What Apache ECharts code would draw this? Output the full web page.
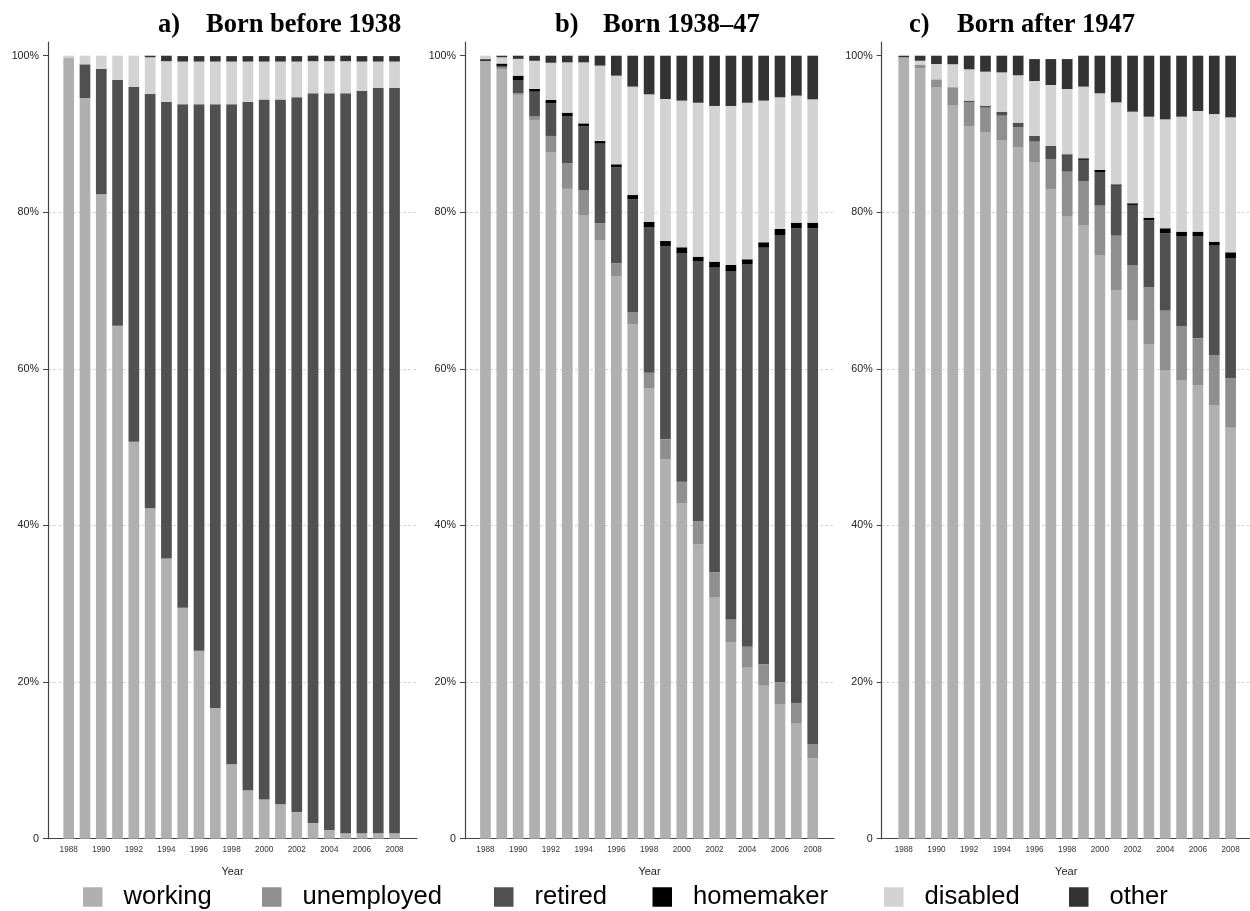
<!DOCTYPE html>
<html>
<head>
<meta charset="utf-8">
<script src="https://cdn.jsdelivr.net/npm/echarts@6/dist/echarts.min.js"></script>
<style>html,body{margin:0;padding:0;background:#fff}#c{width:1250px;height:911px}</style>
</head>
<body>
<div id="c"></div>
<script>
const years = [1988,1989,1990,1991,1992,1993,1994,1995,1996,1997,1998,1999,2000,2001,2002,2003,2004,2005,2006,2007,2008];
const yearLabels = [1988,1990,1992,1994,1996,1998,2000,2002,2004,2006,2008];
const yTicks = [0,20,40,60,80,100];
const statusNames = ['working','unemployed','retired','homemaker','disabled','other'];
const panelTitles = [['a)','Born before 1938'],['b)','Born 1938\u201347'],['c)','Born after 1947']];

// Panel a: born before 1938
const aWorking    = [99.7,94.6,82.3,65.5,50.7,42.2,35.8,29.5,24.0,16.7,9.5,6.2,5.0,4.4,3.4,2.0,1.1,0.7,0.7,0.7,0.7];
const aUnemployed = [0,0,0,0,0,0,0,0,0,0,0,0,0,0,0,0,0,0,0,0,0];
const aRetired    = [0,4.3,16.0,31.4,45.3,52.9,58.3,64.3,69.8,77.1,84.3,87.9,89.4,90.0,91.3,93.2,94.1,94.5,94.8,95.2,95.2];
const aHomemaker  = [0,0,0,0,0,0,0,0,0,0,0,0,0,0,0,0,0,0,0,0,0];
const aDisabled   = [0.3,1.1,1.7,3.1,4.0,4.7,5.2,5.45,5.45,5.45,5.45,5.15,4.85,4.85,4.55,4.1,4.1,4.1,3.75,3.35,3.35];
const aOther      = [0,0,0,0,0,0.2,0.7,0.7,0.7,0.7,0.7,0.7,0.7,0.7,0.7,0.7,0.7,0.7,0.7,0.7,0.7];

// Panel b: born 1938-47
const bWorking    = [99.35,98.3,95.0,91.8,87.66,83.0,79.65,76.46,71.87,65.7,57.52,48.49,42.83,37.6,30.78,25.04,21.84,19.54,17.2,14.7,10.27];
const bUnemployed = [0,0.2,0.2,0.5,2.09,3.26,3.2,2.14,1.62,1.5,2.0,2.51,2.77,2.97,3.24,2.96,2.66,2.76,2.8,2.6,1.83];
const bRetired    = [0,0.2,1.7,3.1,4.15,6.04,8.15,10.17,12.26,14.46,18.56,24.7,29.16,33.13,38.91,44.5,48.9,53.18,57.02,60.66,65.86];
const bHomemaker  = [0.2,0.3,0.55,0.35,0.44,0.42,0.36,0.33,0.38,0.54,0.72,0.63,0.77,0.63,0.77,0.77,0.6,0.69,0.85,0.72,0.72];
const bDisabled   = [0.45,0.8,2.15,3.6,4.76,6.43,7.79,9.63,11.32,13.85,16.27,18.14,18.73,19.66,19.88,20.31,19.99,18.09,16.82,16.22,15.75];
const bOther      = [0,0.2,0.4,0.64,0.9,0.85,0.85,1.27,2.55,3.95,4.93,5.53,5.74,6.01,6.42,6.42,6.01,5.74,5.31,5.1,5.57];

// Panel c: born after 1947
const cWorking    = [99.8,98.39,95.92,93.62,91.02,90.17,89.23,88.3,86.38,82.98,79.44,78.38,74.55,70.08,66.16,63.18,59.77,58.58,57.94,55.39,52.49];
const cUnemployed = [0,0.42,1.06,2.3,3.07,3.19,3.11,2.55,2.64,3.82,5.75,5.62,6.3,6.94,7.11,7.24,7.67,6.9,5.96,6.38,6.31];
const cRetired    = [0,0,0,0.05,0.17,0.26,0.51,0.6,0.73,1.67,2.05,2.7,4.3,6.38,7.67,8.58,9.88,11.49,13.07,13.97,15.32];
const cHomemaker  = [0,0,0,0,0,0,0,0,0,0,0.16,0.2,0.25,0.17,0.21,0.31,0.64,0.56,0.56,0.51,0.77];
const cDisabled   = [0,0.55,1.96,2.94,4.0,4.34,5.02,6.05,7.02,7.79,8.35,9.15,9.8,10.47,11.7,12.9,13.91,14.68,15.41,16.3,17.24];
const cOther      = [0.2,0.64,1.06,1.1,1.74,2.04,2.13,2.5,2.8,3.31,3.82,3.95,4.8,5.96,7.15,7.79,8.13,7.79,7.06,7.45,7.87];

const panels = [
  [aWorking,aUnemployed,aRetired,aHomemaker,aDisabled,aOther],
  [bWorking,bUnemployed,bRetired,bHomemaker,bDisabled,bOther],
  [cWorking,cUnemployed,cRetired,cHomemaker,cDisabled,cOther]
];
const colors = ['#b0b0b0','#8f8f8f','#505050','#000000','#d3d3d3','#333333'];

// layout
const gridLefts = [48, 465, 881.7];
const gridWidth = 369;
const xMins = [1986.73, 1986.75, 1986.65];
const xMaxs = [2009.38, 2009.3, 2009.23];
const legendLefts = [83, 262, 494, 652.5, 884, 1069];
const titleLefts = [158, 555, 909];

const grids = [], xAxes = [], yAxes = [], series = [], titles = [], legends = [];
for (let p = 0; p < 3; p++) {
  grids.push({left: gridLefts[p], width: gridWidth, top: 42, bottom: 72.3, containLabel: false, outerBoundsMode: 'none'});
  xAxes.push({
    type: 'value', gridIndex: p, min: xMins[p], max: xMaxs[p],
    name: 'Year', nameLocation: 'middle', nameGap: 28,
    nameTextStyle: {fontFamily: 'Liberation Sans', fontSize: 11, color: '#222'},
    axisLine: {show: true, onZero: false, lineStyle: {color: '#444', width: 1.2}},
    axisTick: {show: false},
    splitLine: {show: false},
    axisLabel: {customValues: yearLabels, formatter: v => String(v), fontFamily: 'Liberation Sans', fontSize: 8.2, color: '#333', margin: 7}
  });
  yAxes.push({
    type: 'value', gridIndex: p, min: 0, max: 101.75,
    axisLine: {show: true, lineStyle: {color: '#444', width: 1.2}},
    axisTick: {show: true, customValues: yTicks, length: 5, lineStyle: {color: '#444'}},
    axisLabel: {customValues: yTicks, formatter: v => v === 0 ? '0' : v + '%', fontFamily: 'Liberation Sans', fontSize: 10.7, color: '#222', margin: 9},
    splitLine: {show: true, showMinLine: false, showMaxLine: false, lineStyle: {color: '#d6d6d6', type: [3, 2], width: 1}}
  });
  for (let s = 0; s < 6; s++) {
    series.push({
      type: 'bar', name: statusNames[s], xAxisIndex: p, yAxisIndex: p, stack: 'p' + p,
      barWidth: 10.7, color: colors[s], itemStyle: {color: colors[s]},
      animation: false, silent: true,
      dimensions: [{name: 'share', type: 'float'}, {name: 'year', type: 'float'}],
      encode: {x: 'year', y: 'share'},
      data: years.map((y, i) => [panels[p][s][i], y])
    });
  }
  titles.push({
    left: titleLefts[p], top: 12, padding: 0,
    text: '{l|' + panelTitles[p][0] + '}{t|' + panelTitles[p][1] + '}',
    textStyle: {
      rich: {
        l: {fontFamily: 'Liberation Serif', fontWeight: 'bold', fontSize: 26.5, color: '#000', width: 48},
        t: {fontFamily: 'Liberation Serif', fontWeight: 'bold', fontSize: 26.5, color: '#000'}
      }
    }
  });
}
for (let s = 0; s < 6; s++) {
  legends.push({
    left: legendLefts[s], top: 884, padding: 0, itemWidth: 19.5, itemHeight: 19.5,
    icon: 'rect', selectedMode: false, data: [statusNames[s]],
    textStyle: {fontFamily: 'Liberation Sans', fontSize: 25.6, color: '#000', padding: [0, 0, 0, 16]}
  });
}

const chart = echarts.init(document.getElementById('c'), null, {renderer: 'canvas'});
chart.setOption({
  animation: false,
  backgroundColor: '#fff',
  title: titles,
  legend: legends,
  grid: grids,
  xAxis: xAxes,
  yAxis: yAxes,
  series: series
});
</script>
</body>
</html>
